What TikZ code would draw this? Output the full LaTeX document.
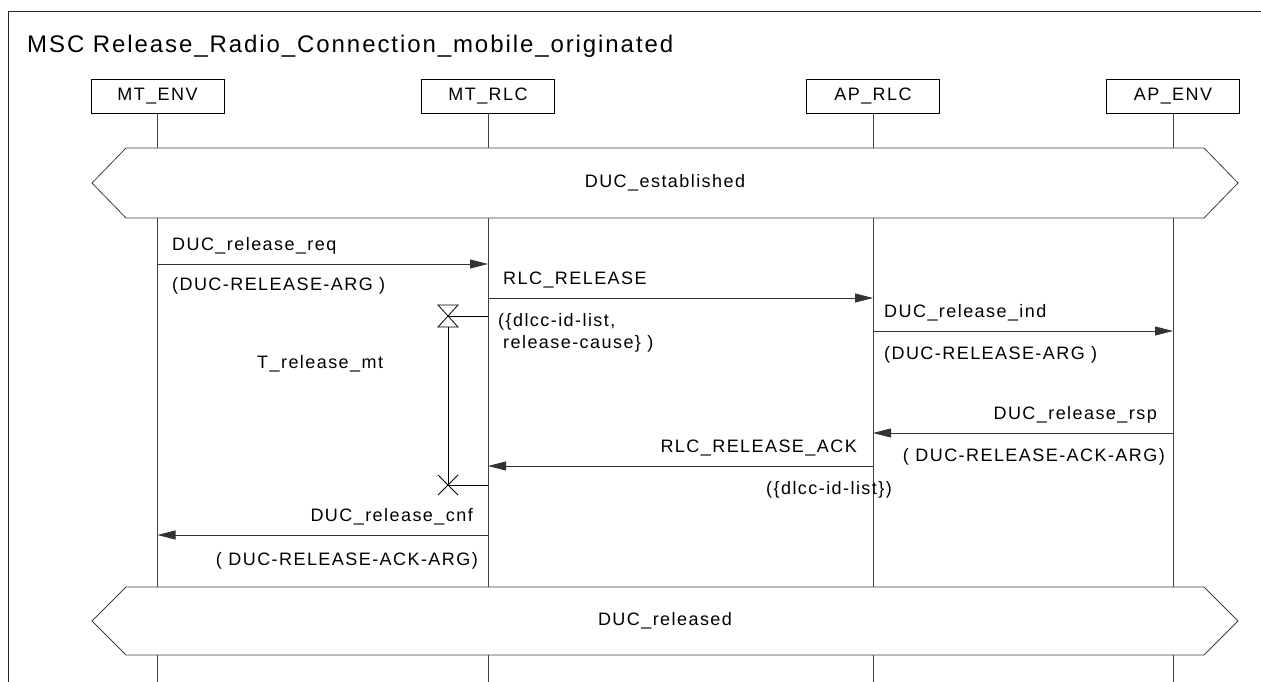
\documentclass[tikz,border=0pt]{standalone}
\usepackage{fontspec}
\setmainfont{Liberation Sans}[LetterSpace=8]
\usetikzlibrary{arrows.meta}
\begin{document}
\begin{tikzpicture}[x=1pt,y=-1pt,
  every node/.style={inner sep=0pt},
  head/.style={draw=black, line width=0.8pt, minimum width=133pt, minimum height=34pt, font=\fontsize{18}{22}\selectfont},
  life/.style={draw=black!75, line width=0.8pt},
  msg/.style={draw=black!80, line width=0.8pt, -{Triangle[length=18pt,width=9pt]}},
  lbl/.style={font=\fontsize{18}{22}\selectfont},
  lblL/.style={lbl, anchor=base west},
  lblR/.style={lbl, anchor=base east},
  cond/.style={draw=black!75, line width=0.8pt, fill=white},
  timer/.style={draw=black, line width=0.8pt}
]
\useasboundingbox (0,0) rectangle (1261,682);
% frame
\draw[black!85, line width=0.8pt] (1261,11.5) -- (8.5,11.5) -- (8.5,682);
\node[anchor=base west, font=\fontsize{24}{28}\selectfont] (title) at (27,53) {MSC Release\_Radio\_Connection\_mobile\_originated};

% instance heads
\node[head] (mtenv) at (157.5,96) {MT\_ENV};
\node[head] (mtrlc) at (488,96) {MT\_RLC};
\node[head] (aprlc) at (873,96) {AP\_RLC};
\node[head] (apenv) at (1173,96) {AP\_ENV};

% lifeline ends
\coordinate (mtenvE) at (157.5,682);
\coordinate (mtrlcE) at (488,682);
\coordinate (aprlcE) at (873,682);
\coordinate (apenvE) at (1173,682);
\draw[life] (mtenv.south) -- (mtenvE);
\draw[life] (mtrlc.south) -- (mtrlcE);
\draw[life] (aprlc.south) -- (aprlcE);
\draw[life] (apenv.south) -- (apenvE);

% conditions
\draw[cond] (92,183) -- (126,148) -- (1204,148) -- (1238,183) -- (1204,218) -- (126,218) -- cycle;
\node[lbl] (est) at (665,183) {DUC\_established};
\draw[cond] (92,621) -- (126,587) -- (1204,587) -- (1238,621) -- (1204,655) -- (126,655) -- cycle;
\node[lbl] (rel) at (665,621) {DUC\_released};

% message end points on lifelines
\coordinate (a1) at (157.5,264); \coordinate (b1) at (488,264);
\coordinate (a2) at (488,298);   \coordinate (b2) at (873,298);
\coordinate (a3) at (873,331);   \coordinate (b3) at (1173,331);
\coordinate (a4) at (1173,433);  \coordinate (b4) at (873,433);
\coordinate (a5) at (873,466);   \coordinate (b5) at (488,466);
\coordinate (a6) at (488,535);   \coordinate (b6) at (157.5,535);

\draw[msg] (a1) -- (b1);
\draw[msg] (a2) -- (b2);
\draw[msg] (a3) -- (b3);
\draw[msg] (a4) -- (b4);
\draw[msg] (a5) -- (b5);
\draw[msg] (a6) -- (b6);

% labels
\node[lblL] (l1a) at (172,250) {DUC\_release\_req};
\node[lblL] (l1b) at (172,290) {(DUC-RELEASE-ARG )};
\node[lblL] (l2a) at (503,284) {RLC\_RELEASE};
\node[lblL] (l2b) at (498,326) {(\{dlcc-id-list,};
\node[lblL] (l2c) at (503,348) {release-cause\} )};
\node[lblL] (l3a) at (884,317) {DUC\_release\_ind};
\node[lblL] (l3b) at (884,359) {(DUC-RELEASE-ARG )};
\node[lblR] (l4a) at (1157,419) {DUC\_release\_rsp};
\node[lblR] (l4b) at (1165,461) {( DUC-RELEASE-ACK-ARG)};
\node[lblR] (l5a) at (857,452) {RLC\_RELEASE\_ACK};
\node[lblR] (l5b) at (892,494) {(\{dlcc-id-list\})};
\node[lblR] (l6a) at (473,521) {DUC\_release\_cnf};
\node[lblR] (l6b) at (478,565) {( DUC-RELEASE-ACK-ARG)};

% timer
\coordinate (tset) at (488,316);
\coordinate (texp) at (488,485);
\coordinate (tc1) at (448,316);
\coordinate (tc2) at (448,485);
\draw[timer] (tset) -- (tc1);
\draw[timer] (438,305) -- (458,305) -- (438,327) -- (458,327) -- cycle;
\draw[timer] (448,327) -- (tc2);
\draw[timer] (texp) -- (tc2);
\draw[timer] (438,475) -- (458,495) (438,495) -- (458,475);
\node[lblL] (tlbl) at (257,368) {T\_release\_mt};
\end{tikzpicture}
\end{document}
